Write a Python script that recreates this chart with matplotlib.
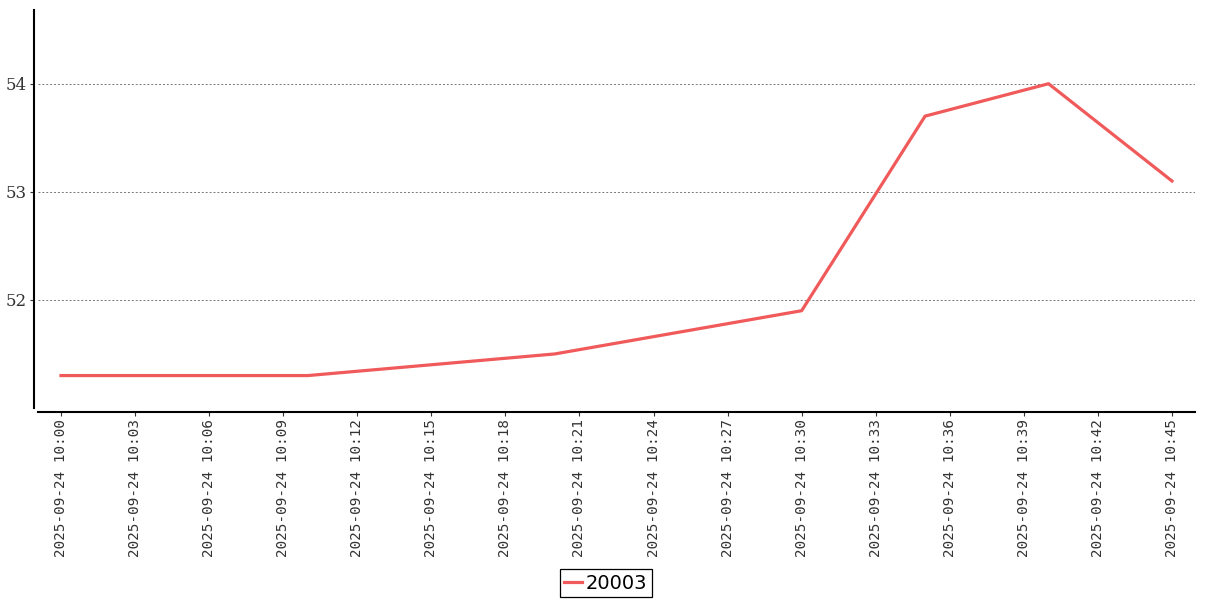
import matplotlib.pyplot as plt
import matplotlib.dates as mdates
import pandas as pd

# readings every 5 minutes
times = ["2025-09-24 10:00", "2025-09-24 10:05", "2025-09-24 10:10", "2025-09-24 10:15",
         "2025-09-24 10:20", "2025-09-24 10:25", "2025-09-24 10:30", "2025-09-24 10:35",
         "2025-09-24 10:40", "2025-09-24 10:45"]
values = [51.3, 51.3, 51.3, 51.4, 51.5, 51.7, 51.9, 53.7, 54.0, 53.1]
series_name = "20003"

x = pd.to_datetime(times)

fig = plt.figure(figsize=(12.07, 6), dpi=100)
ax = fig.add_axes([0.0315, 0.32, 0.9585, 0.663])

ax.plot(x, values, color="#f05a5a", linewidth=2.3, label=series_name)

ax.set_xlim(x[0] - pd.Timedelta(minutes=0.93), x[-1] + pd.Timedelta(minutes=0.93))
ax.set_ylim(51.0, 54.68)
ax.set_yticks([52, 53, 54])
ax.xaxis.set_major_locator(mdates.MinuteLocator(byminute=range(0, 60, 3)))
ax.xaxis.set_major_formatter(mdates.DateFormatter("%Y-%m-%d %H:%M"))
ax.tick_params(colors="#333333", length=3, width=0.8, pad=2)
ax.tick_params(axis="x", labelrotation=90, labelfontfamily="DejaVu Sans Mono", labelsize=10.3)
ax.tick_params(axis="y", labelfontfamily="DejaVu Serif", labelsize=12)

ax.grid(axis="y", linestyle=(0, (2, 2)), color="#777777", linewidth=0.7)
ax.set_axisbelow(True)

for s in ["top", "right"]:
    ax.spines[s].set_visible(False)
ax.spines["left"].set_position(("outward", 3))
ax.spines["bottom"].set_position(("outward", 3))
ax.spines["left"].set_linewidth(1.5)
ax.spines["bottom"].set_linewidth(1.5)

leg = fig.legend(loc="lower center", bbox_to_anchor=(0.502, -0.012), fontsize=14,
                 handlelength=0.9, handletextpad=0.2, borderpad=0.25,
                 fancybox=False, edgecolor="black", framealpha=1)
leg.get_frame().set_linewidth(0.9)

fig.savefig("out.png", dpi=100)
